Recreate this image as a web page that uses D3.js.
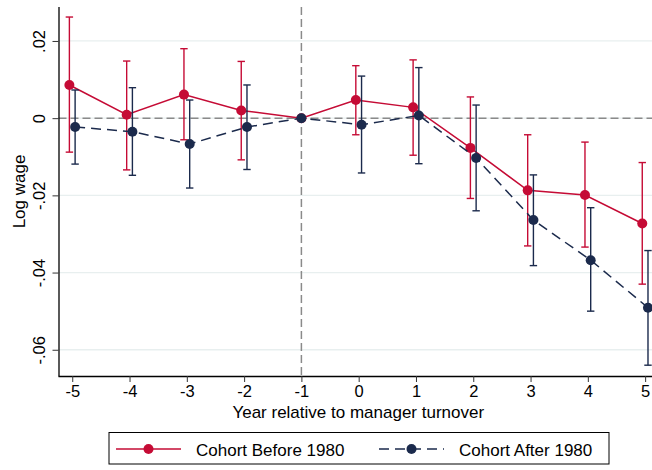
<!DOCTYPE html>
<html><head><meta charset="utf-8">
<script src="https://cdn.jsdelivr.net/npm/d3@7"></script>
<style>body{margin:0;background:#fff}svg{display:block;font-family:"Liberation Sans",Arial,Helvetica,sans-serif}</style>
</head><body>
<svg id="c" width="652" height="470"></svg>
<script>
const years = [-5,-4,-3,-2,-1,0,1,2,3,4,5];
const xTicks = [-5,-4,-3,-2,-1,0,1,2,3,4,5];
const yTicks = [0.02,0,-0.02,-0.04,-0.06];
const yTickLabels = [".02","0","-.02","-.04","-.06"];
const seriesNames = ["Cohort Before 1980","Cohort After 1980"];
const beforeEst = [0.0086,0.0009,0.0061,0.0020,0,0.0047,0.0028,-0.0077,-0.0187,-0.0199,-0.0273];
const beforeLo  = [-0.0088,-0.0134,-0.0056,-0.0108,null,-0.0043,-0.0096,-0.0208,-0.0331,-0.0334,-0.0430];
const beforeHi  = [0.0262,0.0148,0.0180,0.0147,null,0.0136,0.0151,0.0055,-0.0043,-0.0062,-0.0115];
const afterEst  = [-0.0023,-0.0035,-0.0067,-0.0023,0,-0.0017,0.0007,-0.0103,-0.0264,-0.0368,-0.0491];
const afterLo   = [-0.0119,-0.0148,-0.0181,-0.0133,null,-0.0142,-0.0118,-0.0240,-0.0382,-0.0500,-0.0640];
const afterHi   = [0.0073,0.0079,0.0047,0.0086,null,0.0109,0.0131,0.0034,-0.0147,-0.0232,-0.0343];
const offsets = [-0.05, 0.05];

const red = "#c50b35", navy = "#1b2a4c";
const svg = d3.select("#c");
const L = 58.5, R = 652, T = 7, B = 376;
const x = d3.scaleLinear().domain([-5.24, 5.12]).range([L, R]);
const y = d3.scaleLinear().domain([-0.0668, 0.0288]).range([B, T]);
const FONT = "Liberation Sans, Arial, sans-serif";

// gridlines
svg.append("g").selectAll("line").data(yTicks).join("line")
  .attr("x1", L).attr("x2", R).attr("y1", d=>y(d)).attr("y2", d=>y(d))
  .attr("stroke", "#e8efef").attr("stroke-width", 1.3);

// reference lines
svg.append("line").attr("x1", L).attr("x2", R).attr("y1", y(0)).attr("y2", y(0))
  .attr("stroke", "#8a8a8a").attr("stroke-width", 1.5).attr("stroke-dasharray", "8,4");
svg.append("line").attr("x1", x(-1)).attr("x2", x(-1)).attr("y1", T).attr("y2", B)
  .attr("stroke", "#8a8a8a").attr("stroke-width", 1.5).attr("stroke-dasharray", "8,4");

const series = [
  {est: beforeEst, lo: beforeLo, hi: beforeHi, color: red, dash: null, off: offsets[0]},
  {est: afterEst, lo: afterLo, hi: afterHi, color: navy, dash: "10,6", off: offsets[1]}
];

series.forEach(s => {
  const pts = years.map((yr,i)=>({x: yr === -1 ? yr : yr + s.off, e: s.est[i], lo: s.lo[i], hi: s.hi[i]}));
  const g = svg.append("g");
  const ci = pts.filter(p=>p.lo!==null);
  g.selectAll("line.v").data(ci).join("line").attr("class","v")
    .attr("x1", p=>x(p.x)).attr("x2", p=>x(p.x)).attr("y1", p=>y(p.lo)).attr("y2", p=>y(p.hi))
    .attr("stroke", s.color).attr("stroke-width", 1.4);
  ["lo","hi"].forEach(k=>{
    g.selectAll("line."+k).data(ci).join("line").attr("class",k)
      .attr("x1", p=>x(p.x)-3.7).attr("x2", p=>x(p.x)+3.7).attr("y1", p=>y(p[k])).attr("y2", p=>y(p[k]))
      .attr("stroke", s.color).attr("stroke-width", 1.4);
  });
  g.append("path").datum(pts)
    .attr("d", d3.line().x(p=>x(p.x)).y(p=>y(p.e)))
    .attr("fill","none").attr("stroke", s.color).attr("stroke-width", 1.5)
    .attr("stroke-dasharray", s.dash);
  g.selectAll("circle").data(pts).join("circle")
    .attr("cx", p=>x(p.x)).attr("cy", p=>y(p.e)).attr("r", 5).attr("fill", s.color);
});

// axes
const xAxis = d3.axisBottom(x).tickValues(xTicks).tickSize(6).tickPadding(3).tickFormat(d=>d);
const gx = svg.append("g").attr("transform", `translate(0,${B})`).call(xAxis);
gx.select(".domain").attr("d", `M${L},0.5H${R}`).attr("stroke","#000").attr("stroke-width",1.3);
gx.selectAll(".tick line").attr("stroke","#333");
gx.selectAll("text").attr("font-size", 16.5).attr("fill","#000").attr("font-family",FONT);

const yAxis = d3.axisLeft(y).tickValues(yTicks).tickSize(6).tickFormat((d,i)=>yTickLabels[i]);
const gy = svg.append("g").attr("transform", `translate(${L},0)`).call(yAxis);
gy.select(".domain").attr("d", `M0.5,${T}V${B+0.5}`).attr("stroke","#000").attr("stroke-width",1.3);
gy.selectAll(".tick line").attr("stroke","#333");
gy.selectAll("text").attr("font-size", 16.5).attr("fill","#000").attr("font-family",FONT)
  .attr("transform","rotate(-90)").attr("x",0).attr("y",-14).attr("dy","0").attr("text-anchor","middle");

// axis titles
svg.append("text").attr("x", (L+R)/2 + 3).attr("y", 418).attr("text-anchor","middle")
  .attr("font-size", 17).text("Year relative to manager turnover");
svg.append("text").attr("transform", `translate(25,${(T+B)/2}) rotate(-90)`).attr("text-anchor","middle")
  .attr("font-size", 17).text("Log wage");

// legend
const lg = svg.append("g");
lg.append("rect").attr("x", 109).attr("y", 432.5).attr("width", 500).attr("height", 31.5)
  .attr("fill","#fff").attr("stroke","#000").attr("stroke-width",1);
const legItems = [
  {name: seriesNames[0], color: red, dash: null, x0: 116, x1: 181, tx: 196},
  {name: seriesNames[1], color: navy, dash: "10,6", x0: 379, x1: 444, tx: 459}
];
legItems.forEach(it=>{
  lg.append("line").attr("x1", it.x0).attr("x2", it.x1).attr("y1", 449).attr("y2", 449)
    .attr("stroke", it.color).attr("stroke-width",1.5).attr("stroke-dasharray", it.dash);
  lg.append("circle").attr("cx", (it.x0+it.x1)/2).attr("cy", 449).attr("r", 5).attr("fill", it.color);
  lg.append("text").attr("x", it.tx).attr("y", 455.5).attr("font-size", 17).text(it.name);
});
</script>
</body></html>
